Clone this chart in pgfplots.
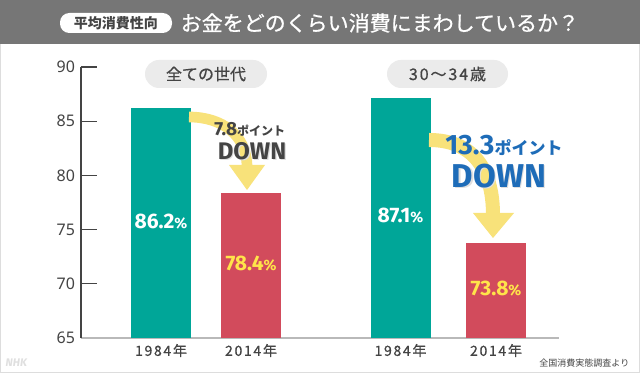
\documentclass[border=0pt]{standalone}
\usepackage{fontspec}
\usepackage{pgfplots}
\pgfplotsset{compat=1.18}
\setmainfont{Noto Sans CJK JP}
\newfontfamily\cjk{Noto Sans CJK JP}
\newfontfamily\cjkm{Noto Sans CJK JP}[FakeBold=0.7]
\newfontfamily\cjkls{Noto Sans CJK JP}[LetterSpace=12]
\newfontfamily\cjklsm{Noto Sans CJK JP}[LetterSpace=12, FakeBold=0.7]
\newfontfamily\num{Fira Sans}
\newfontfamily\tickf{Noto Sans}
\newcommand\fs[1]{\fontsize{\fpeval{#1*0.75}pt}{\fpeval{#1*0.9}pt}\selectfont}
\definecolor{titlegray}{HTML}{767676}
\definecolor{framegray}{HTML}{DDDDDD}
\definecolor{textdark}{HTML}{444444}
\definecolor{barteal}{HTML}{00A698}
\definecolor{barred}{HTML}{D24B5C}
\definecolor{arrowyel}{HTML}{F8E27A}
\definecolor{valyel}{HTML}{FFE44A}
\definecolor{downblue}{HTML}{1E6CB8}
\definecolor{pillgray}{HTML}{EBEBEB}
\begin{document}
\begin{tikzpicture}[x=0.75pt,y=0.75pt]
\path[use as bounding box] (0,0) rectangle (640,373);
\fill[white] (0,0) rectangle (640,373);
\draw[framegray, line width=1.5pt] (0,0) rectangle (640,373);
\fill[titlegray] (0,329) rectangle (640,373);
\fill[white, rounded corners=7pt] (60,340) rectangle (172,360);
\node[text=textdark, font=\cjk\bfseries\fs{14}] at (116,350) {平均消費性向};
\node[anchor=west, text=white, font=\cjkm\fs{21}] at (176,350) {お金をどのくらい消費にまわしているか？};
% category pills
\fill[pillgray, rounded corners=10.5pt] (145,285) rectangle (267,313);
\node[text=textdark, font=\cjkm\fs{16}] at (206,299) {全ての世代};
\fill[pillgray, rounded corners=10.5pt] (387,285) rectangle (508,313);
\node[text=textdark, font=\cjklsm\fs{16}] at (447.5,299) {30～34歳};
\begin{axis}[
  at={(60.75pt,26.25pt)}, anchor=south west,
  scale only axis, width=358.5pt, height=203.25pt,
  xmin=81, xmax=559, ymin=65, ymax=90,
  axis lines=left,
  x axis line style={-, draw=gray!55, line width=1.5pt},
  y axis line style={-, draw=textdark, line width=0.8pt},
  ytick={65,70,75,80,85,90},
  tick align=inside,
  major tick length=12pt,
  ytick style={draw=textdark, line width=0.8pt},
  xtick={161,251,400.5,496},
  xticklabels={1984年,2014年,1984年,2014年},
  xtick style={draw=none},
  yticklabel style={font=\tickf\fs{16}, text=textdark, xshift=-1pt},
  xticklabel style={font=\cjklsm\fs{14}, text=textdark, yshift=-1pt},
  /pgf/number format/assume math mode=true,
]
\addplot[ybar, bar shift=0pt, bar width=60, fill=barteal, draw=none] coordinates {(161,86.2)};
\addplot[ybar, bar shift=0pt, bar width=60, fill=barred, draw=none] coordinates {(251,78.4)};
\addplot[ybar, bar shift=0pt, bar width=60, fill=barteal, draw=none] coordinates {(400.5,87.1)};
\addplot[ybar, bar shift=0pt, bar width=60, fill=barred, draw=none] coordinates {(496,73.8)};
\node[text=white, font=\num\bfseries\fs{21}] at (axis cs:161,75.7) {86.2{\fs{15}\%}};
\node[text=valyel, font=\num\bfseries\fs{21}] at (axis cs:251,71.9) {78.4{\fs{15}\%}};
\node[text=white, font=\num\bfseries\fs{21}] at (axis cs:400.5,76.25) {87.1{\fs{15}\%}};
\node[text=valyel, font=\num\bfseries\fs{21}] at (axis cs:496,69.6) {73.8{\fs{15}\%}};
\end{axis}
% arrows
\draw[arrowyel, line width=8pt] (189,256) .. controls (222,256) and (247,238) .. (247,206);
\fill[arrowyel] (229,208) -- (265,208) -- (247,183) -- cycle;
\draw[arrowyel, line width=10.5pt] (429,233) .. controls (472,233) and (493,205) .. (493,158);
\fill[arrowyel] (473,160) -- (514,160) -- (493,135) -- cycle;
% annotation texts
\node[anchor=west, inner sep=0pt, text height=9.9pt, text depth=0pt, text=textdark, font=\num\bfseries\fs{19}] at (214,244) {7.8{\cjk\bfseries\fs{12}ポイント}};
\node[inner sep=0pt, text height=12.5pt, text depth=0pt, text=gray!25, font=\num\bfseries\fs{24}] at (253.2,220.8) {DOWN};
\node[inner sep=0pt, text height=12.5pt, text depth=0pt, text=textdark, font=\num\bfseries\fs{24}] at (252,222) {DOWN};
\node[anchor=west, inner sep=0pt, text height=14.6pt, text depth=0pt, text=downblue, font=\num\bfseries\fs{28}] at (445,228) {13.3{\cjk\bfseries\fs{17}ポイント}};
\node[inner sep=0pt, text height=17.2pt, text depth=0pt, text=gray!25, font=\num\bfseries\fs{33}] at (500.5,195.5) {DOWN};
\node[inner sep=0pt, text height=17.2pt, text depth=0pt, text=downblue, font=\num\bfseries\fs{33}] at (499,197) {DOWN};
% source and watermark
\node[anchor=east, text=textdark, font=\cjk\fs{9}] at (634,10) {全国消費実態調査より};
\node[anchor=west, text=gray!25, font=\num\itshape\bfseries\fs{11}] at (1,10) {NHK};
\end{tikzpicture}
\end{document}
